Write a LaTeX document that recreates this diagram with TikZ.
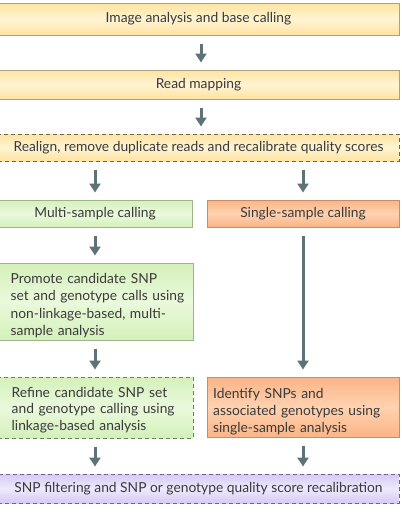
\documentclass[tikz,border=0pt]{standalone}
\usepackage{fontspec}
\setmainfont{Lato}
\usetikzlibrary{arrows.meta}
\definecolor{txt}{HTML}{3A3A3A}
\definecolor{arr}{HTML}{5E7377}
\definecolor{yEdge}{HTML}{FFE3A0}
\definecolor{yMid}{HTML}{FFF4D4}
\definecolor{yLine}{HTML}{ADA184}
\definecolor{yDash}{HTML}{6E6650}
\definecolor{gEdge}{HTML}{D4F0BA}
\definecolor{gMid}{HTML}{EAF9DC}
\definecolor{gLine}{HTML}{9CB48A}
\definecolor{gDash}{HTML}{6E7E62}
\definecolor{oEdge}{HTML}{FAB487}
\definecolor{oMid}{HTML}{FFD2B0}
\definecolor{oLine}{HTML}{C58D6C}
\definecolor{pEdge}{HTML}{D6CBF3}
\definecolor{pMid}{HTML}{EEE9FD}
\definecolor{pDash}{HTML}{6A6684}
\tikzset{
  x=1pt, y=-1pt,
  base/.style={rectangle, inner sep=0pt, text=txt, font=\fontsize{13.8}{17.5}\selectfont, line width=1pt},
  ybox/.style={base, draw=yLine, top color=yEdge, bottom color=yEdge, middle color=yMid},
  ydash/.style={ybox, draw=yDash, dash pattern=on 4pt off 3pt},
  gbox/.style={base, draw=gLine, top color=gEdge, bottom color=gEdge, middle color=gMid},
  gdash/.style={gbox, draw=gDash, dash pattern=on 4pt off 3pt},
  obox/.style={base, draw=oLine, top color=oEdge, bottom color=oEdge, middle color=oMid},
  pdash/.style={base, draw=pDash, dash pattern=on 4pt off 3pt, top color=pEdge, bottom color=pEdge, middle color=pMid},
  boxtext/.style={inner sep=0pt, text=txt, align=left, anchor=base west, text width=#1},
  flow/.style={draw=arr, line width=3pt, -{Triangle[width=11pt,length=9pt]}, shorten <=8pt, shorten >=7pt},
}
\begin{document}
\begin{tikzpicture}
\useasboundingbox (0,0) rectangle (402,512);
\fill[white] (0,0) rectangle (402,512);
\node[ybox, minimum width=401pt, minimum height=32pt] (b1) at (198.5,19) {Image analysis and base calling};
\node[ybox, minimum width=401pt, minimum height=29pt] (b2) at (198.5,84.5) {Read mapping};
\node[ydash, minimum width=401pt, minimum height=27pt] (b3) at (198.5,147.5) {Realign, remove duplicate reads and recalibrate quality scores};
\node[gbox, minimum width=194pt, minimum height=27pt] (multi) at (95,213.5) {Multi-sample calling};
\node[obox, minimum width=192pt, minimum height=27pt] (single) at (303,213.5) {Single-sample calling};
\node[gbox, minimum width=195pt, minimum height=77pt] (prom) at (95.5,301.5) {};
\node[gdash, minimum width=195pt, minimum height=61pt] (ref) at (95.5,407.5) {};
\node[obox, minimum width=192pt, minimum height=60pt] (ident) at (303,407) {};
\node[boxtext=185pt, font=\fontsize{13.8}{17.5}\selectfont] (promT) at (10.5,283) {Promote candidate SNP\\set and genotype calls using\\non-linkage-based, multi-\\sample analysis};
\node[boxtext=185pt, font=\fontsize{13.8}{16.5}\selectfont] (refT) at (11.5,397) {Refine candidate SNP set\\and genotype calling using\\linkage-based analysis};
\node[boxtext=185pt, font=\fontsize{13.8}{17}\selectfont] (identT) at (213,398) {Identify SNPs and\\associated genotypes using\\single-sample analysis};
\node[pdash, minimum width=401pt, minimum height=29pt] (fin) at (198.5,488.5) {SNP filtering and SNP or genotype quality score recalibration};
\draw[flow] (b1.south -| 201,0) -- (b2.north -| 201,0);
\draw[flow] (b2.south -| 201,0) -- (b3.north -| 201,0);
\draw[flow] (b3.south -| multi.north) -- (multi.north);
\draw[flow] (b3.south -| single.north) -- (single.north);
\draw[flow] (multi.south) -- (prom.north -| multi.south);
\draw[flow] (single.south) -- (ident.north -| single.south);
\draw[flow] (prom.south -| multi.south) -- (ref.north -| multi.south);
\draw[flow] (ref.south -| multi.south) -- (fin.north -| multi.south);
\draw[flow] (ident.south -| single.south) -- (fin.north -| single.south);
\end{tikzpicture}
\end{document}
